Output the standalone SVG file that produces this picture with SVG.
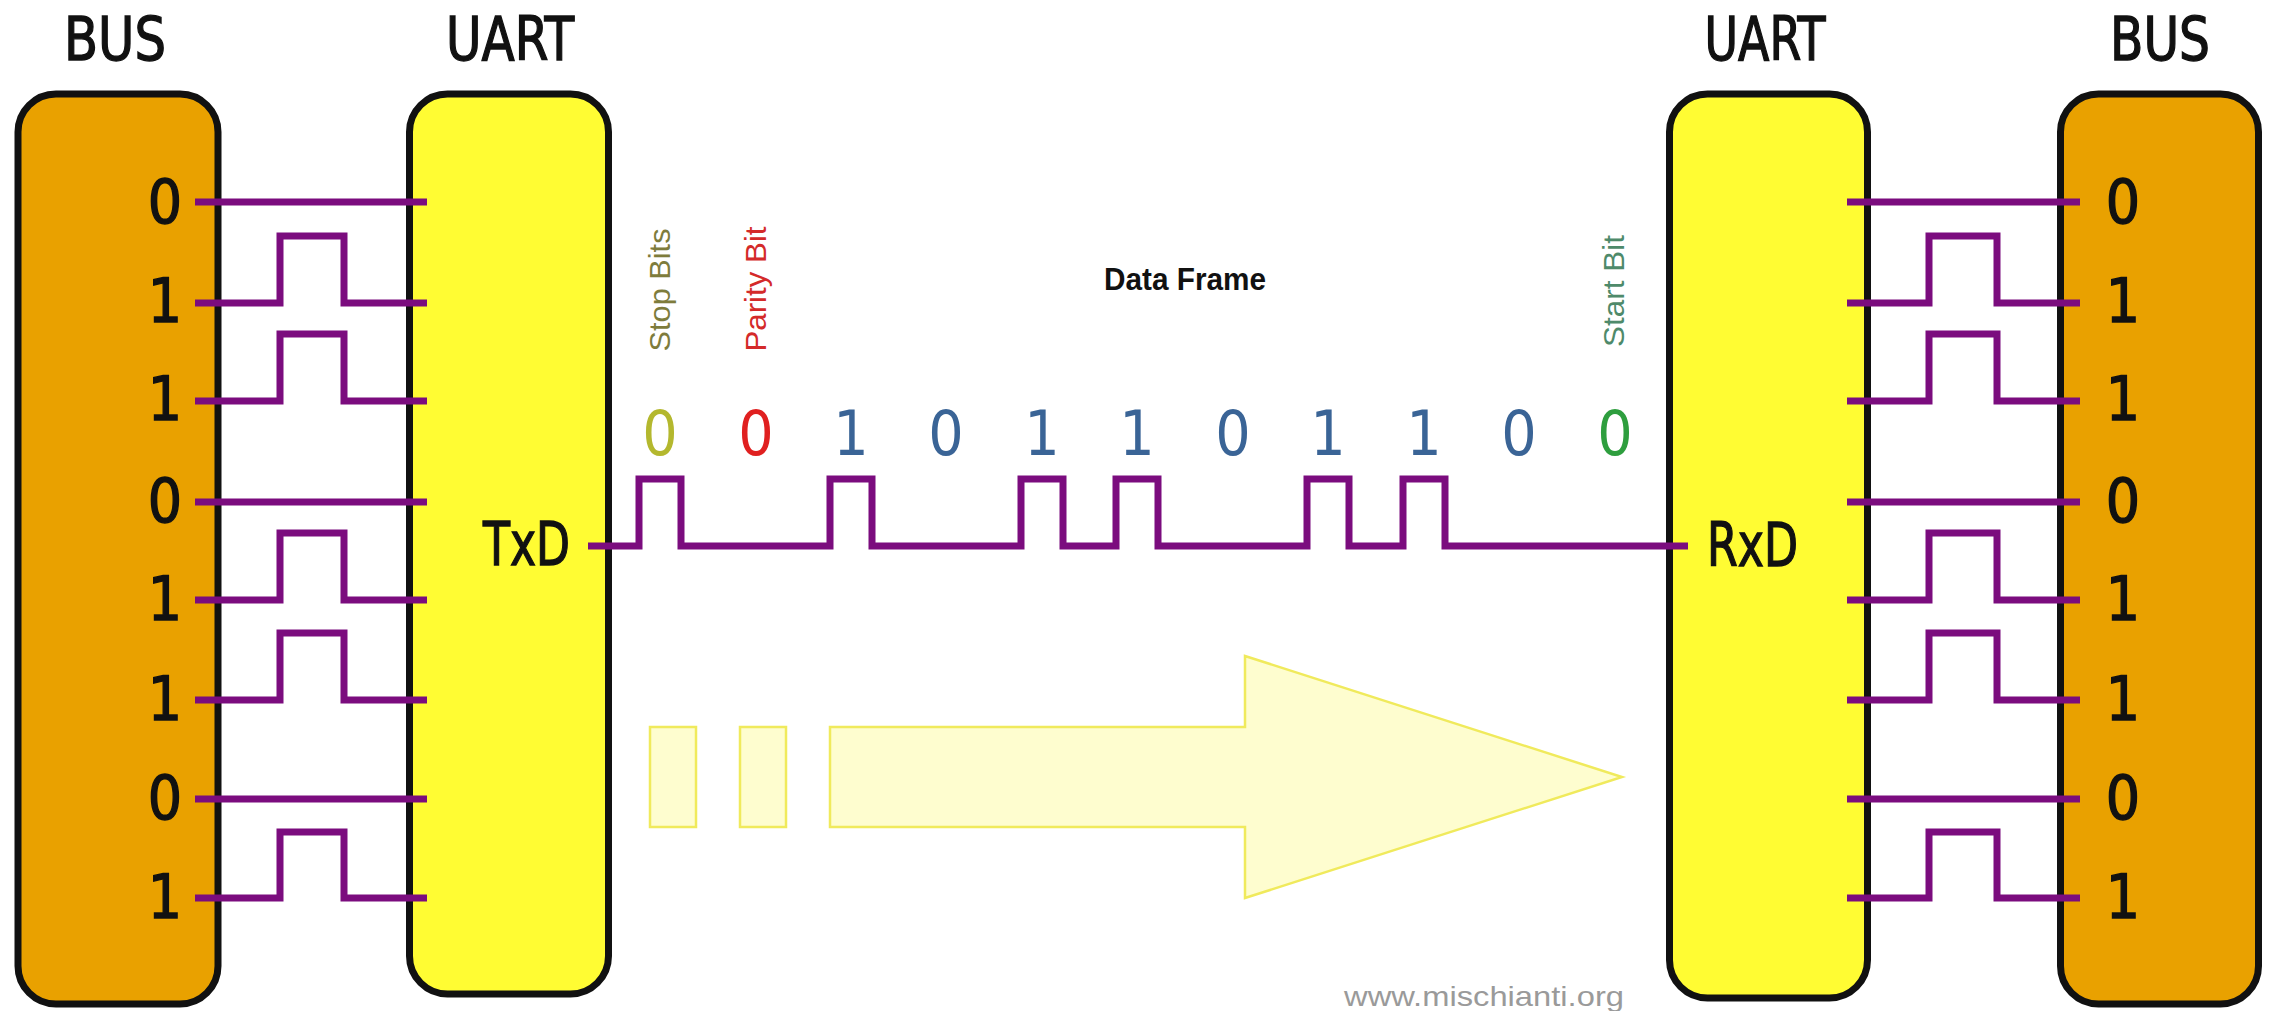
<svg xmlns="http://www.w3.org/2000/svg" width="2269" height="1011" viewBox="0 0 2269 1011">
  <style>
    .bus { fill: #E9A100; stroke: #111; stroke-width: 7; }
    .uart { fill: #FFFC33; stroke: #111; stroke-width: 7; }
    .sig { fill: none; stroke: #7B0C7E; stroke-width: 7; stroke-linejoin: miter; stroke-linecap: butt; }
    .big { font-family: "Liberation Sans Narrow", "DejaVu Sans Condensed", "Liberation Sans", sans-serif; font-stretch: condensed; font-size: 60px; fill: #111; stroke: #111; stroke-width: 1.3px; }
    .bit { font-family: "DejaVu Sans Condensed", "DejaVu Sans", sans-serif; font-stretch: condensed; font-size: 62px; }
    .lbl { font-family: "Liberation Sans", Arial, sans-serif; font-size: 29px; }
    .ghost { fill: #FEFDCF; stroke: #F0EA5C; stroke-width: 2.5; }
  </style>

  <!-- Ghost arrow -->
  <g id="arrow">
    <rect class="ghost" x="650" y="727" width="46" height="100"/>
    <rect class="ghost" x="740" y="727" width="46" height="100"/>
    <polygon class="ghost" points="830,727 1245,727 1245,656 1622,777 1245,898 1245,827 830,827"/>
  </g>

  <!-- Nodes -->
  <g id="bus-left">
    <rect class="bus" x="18" y="94" width="200" height="910" rx="38" ry="38"/>
    <text class="big" x="115" y="60" text-anchor="middle" textLength="102" lengthAdjust="spacingAndGlyphs">BUS</text>
    <g class="big" text-anchor="middle">
      <text x="165" y="223">0</text>
      <text x="165" y="322">1</text>
      <text x="165" y="420">1</text>
      <text x="165" y="522">0</text>
      <text x="165" y="620">1</text>
      <text x="165" y="720">1</text>
      <text x="165" y="819">0</text>
      <text x="165" y="918">1</text>
    </g>
  </g>

  <g id="uart-left">
    <rect class="uart" x="409.5" y="94" width="199" height="900" rx="38" ry="38"/>
    <text class="big" x="510" y="60" text-anchor="middle" textLength="128" lengthAdjust="spacingAndGlyphs">UART</text>
    <text class="big" x="483" y="565" font-size="63" textLength="87" lengthAdjust="spacingAndGlyphs">TxD</text>
  </g>

  <g id="uart-right">
    <rect class="uart" x="1669.5" y="94" width="198" height="904" rx="38" ry="38"/>
    <text class="big" x="1765" y="60" text-anchor="middle" textLength="121" lengthAdjust="spacingAndGlyphs">UART</text>
    <text class="big" x="1707" y="566" font-size="63" textLength="91" lengthAdjust="spacingAndGlyphs">RxD</text>
  </g>

  <g id="bus-right">
    <rect class="bus" x="2060.5" y="94" width="198" height="910" rx="38" ry="38"/>
    <text class="big" x="2160" y="60" text-anchor="middle" textLength="100" lengthAdjust="spacingAndGlyphs">BUS</text>
    <g class="big" text-anchor="middle">
      <text x="2123" y="223">0</text>
      <text x="2123" y="322">1</text>
      <text x="2123" y="420">1</text>
      <text x="2123" y="522">0</text>
      <text x="2123" y="620">1</text>
      <text x="2123" y="720">1</text>
      <text x="2123" y="819">0</text>
      <text x="2123" y="918">1</text>
    </g>
  </g>

  <!-- Frame labels -->
  <g id="frame-labels">
    <text class="lbl" fill="#7E7C3C" transform="translate(670,290) rotate(-90)" text-anchor="middle" textLength="123" lengthAdjust="spacingAndGlyphs">Stop Bits</text>
    <text class="lbl" fill="#D42A2A" transform="translate(766,289) rotate(-90)" text-anchor="middle" textLength="125" lengthAdjust="spacingAndGlyphs">Parity Bit</text>
    <text class="lbl" fill="#4E8A6A" transform="translate(1624,291) rotate(-90)" text-anchor="middle" textLength="112" lengthAdjust="spacingAndGlyphs">Start Bit</text>
    <text x="1104" y="290" font-family="Liberation Sans, Arial, sans-serif" font-weight="bold" font-size="32" fill="#111" textLength="162" lengthAdjust="spacingAndGlyphs">Data Frame</text>
    <g class="bit" text-anchor="middle">
      <text x="660" y="455" fill="#B4B82E">0</text>
      <text x="756" y="455" fill="#E02020">0</text>
      <text x="851" y="455" fill="#3A6496">1</text>
      <text x="946" y="455" fill="#3A6496">0</text>
      <text x="1042" y="455" fill="#3A6496">1</text>
      <text x="1137" y="455" fill="#3A6496">1</text>
      <text x="1233" y="455" fill="#3A6496">0</text>
      <text x="1328" y="455" fill="#3A6496">1</text>
      <text x="1424" y="455" fill="#3A6496">1</text>
      <text x="1519" y="455" fill="#3A6496">0</text>
      <text x="1615" y="455" fill="#2E9E3E">0</text>
    </g>
    <text x="1344" y="1006" font-family="Liberation Sans Narrow, Liberation Sans, Arial, sans-serif" font-size="28" fill="#9A9A9A" textLength="280" lengthAdjust="spacingAndGlyphs">www.mischianti.org</text>
  </g>

  <!-- Connectors / signals -->
  <g id="connectors">
    <path class="sig" d="M195,202 H427"/>
    <path class="sig" d="M195,303 H280 V236 H344 V303 H427"/>
    <path class="sig" d="M195,401 H280 V334 H344 V401 H427"/>
    <path class="sig" d="M195,502 H427"/>
    <path class="sig" d="M195,600 H280 V533 H344 V600 H427"/>
    <path class="sig" d="M195,700 H280 V633 H344 V700 H427"/>
    <path class="sig" d="M195,799 H427"/>
    <path class="sig" d="M195,898 H280 V832 H344 V898 H427"/>

    <path class="sig" d="M1847,202 H2080"/>
    <path class="sig" d="M1847,303 H1929 V236 H1997 V303 H2080"/>
    <path class="sig" d="M1847,401 H1929 V334 H1997 V401 H2080"/>
    <path class="sig" d="M1847,502 H2080"/>
    <path class="sig" d="M1847,600 H1929 V533 H1997 V600 H2080"/>
    <path class="sig" d="M1847,700 H1929 V633 H1997 V700 H2080"/>
    <path class="sig" d="M1847,799 H2080"/>
    <path class="sig" d="M1847,898 H1929 V832 H1997 V898 H2080"/>

    <path class="sig" d="M588,546 H639 V479 H681 V546 H830 V479 H872 V546 H1021 V479 H1063 V546 H1116 V479 H1158 V546 H1307 V479 H1349 V546 H1403 V479 H1445 V546 H1688"/>
  </g>
</svg>
